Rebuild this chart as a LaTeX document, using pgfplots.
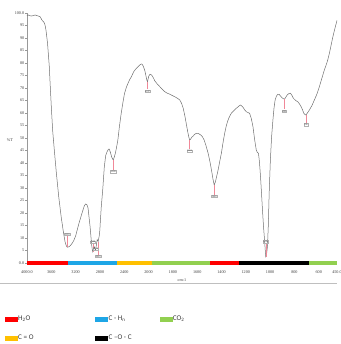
\documentclass[border=0pt]{standalone}
\usepackage{pgfplots}
\pgfplotsset{compat=1.18}
\usepackage{fontspec}
\setmainfont{Liberation Serif}
\newfontfamily\legendfont{Carlito}

\definecolor{trace}{HTML}{6E6E6E}
\definecolor{peakline}{HTML}{F08898}
\definecolor{txt}{HTML}{3C3C3C}
\definecolor{bandred}{HTML}{FF0000}
\definecolor{bandblue}{HTML}{1EA6E6}
\definecolor{bandyellow}{HTML}{FFC000}
\definecolor{bandgreen}{HTML}{92D050}
\definecolor{bandblack}{HTML}{000000}

% FTIR transmittance spectrum: wavenumber (cm^-1) and %T
\pgfplotstableread{
wn T
4000 99.0
3983 99.2
3950 98.9
3922 98.8
3895 99.0
3867 99.2
3840 99.0
3817 98.8
3783 98.5
3755 97.2
3728 96.5
3712 95.9
3700 94.8
3688 93.2
3662 87.9
3633 78.5
3617 70.5
3600 62.5
3578 53.0
3550 45.0
3517 36.0
3478 26.5
3438 18.5
3405 13.0
3375 8.6
3355 7.0
3339 6.3
3310 6.5
3285 7.0
3260 7.8
3230 9.0
3200 10.8
3145 15.9
3088 20.5
3055 23.0
3033 23.6
3012 23.2
2995 21.9
2978 18.0
2962 14.5
2948 10.5
2935 7.0
2925 5.2
2918 4.5
2908 5.4
2897 6.6
2886 6.0
2874 5.2
2864 6.2
2855 7.9
2845 9.3
2837 9.2
2829 8.6
2820 9.8
2812 10.8
2802 13.0
2795 16.0
2778 22.5
2755 29.0
2728 38.5
2705 43.0
2683 44.5
2660 45.5
2645 45.5
2625 44.0
2605 42.3
2590 41.5
2580 41.3
2565 42.3
2545 44.0
2525 46.5
2505 49.2
2480 54.5
2450 59.9
2420 64.5
2395 67.9
2365 70.3
2338 71.9
2310 73.4
2283 74.5
2245 76.5
2200 77.9
2170 78.6
2145 79.2
2120 79.6
2105 79.5
2085 78.6
2060 76.8
2040 74.5
2028 73.1
2017 72.5
2008 73.6
1998 74.8
1988 75.5
1975 75.2
1962 74.2
1948 72.8
1930 71.7
1907 70.5
1886 69.4
1866 68.5
1845 67.9
1825 67.5
1805 67.0
1784 66.5
1763 65.9
1743 65.2
1728 63.8
1715 61.9
1700 58.5
1688 55.2
1676 52.0
1668 50.2
1662 49.2
1655 49.5
1645 50.3
1633 50.8
1620 51.5
1606 51.9
1590 51.8
1571 51.2
1557 50.5
1543 49.2
1528 47.0
1510 43.9
1495 40.5
1480 36.5
1470 33.5
1460 31.2
1450 32.5
1440 34.6
1428 37.2
1415 40.5
1401 43.9
1388 48.0
1374 51.9
1360 55.0
1346 57.2
1333 58.7
1319 59.9
1298 61.0
1278 61.9
1260 62.6
1246 63.2
1235 62.9
1223 62.3
1210 61.3
1196 60.5
1183 60.2
1169 59.9
1155 57.8
1141 54.5
1128 49.5
1114 45.2
1105 44.2
1096 43.9
1088 40.5
1079 34.5
1071 28.0
1063 21.2
1055 15.0
1046 9.2
1040 5.0
1036 2.5
1030 3.3
1022 6.5
1015 15.0
1008 27.9
998 41.2
988 50.5
977 57.2
968 62.0
959 65.2
948 66.8
936 67.5
925 67.4
915 66.8
900 66.0
882 65.5
870 66.4
860 67.2
845 67.8
833 67.9
820 67.0
809 65.9
790 65.0
772 64.5
758 63.6
745 62.5
733 61.2
723 59.9
714 59.4
706 59.2
695 59.9
677 61.2
656 63.0
636 65.2
615 67.6
595 70.5
575 73.8
554 77.2
540 79.1
526 81.2
512 84.0
499 87.0
487 89.8
475 92.3
462 94.8
450 97.0
}\spectrum

% short marker from a band minimum towards its label
\newcommand\peakmark[3]{%
  \addplot[peakline, line width=0.5bp, forget plot] coordinates {(#1,#2) (#1,#3)};}
% coloured band along the baseline
\newcommand\band[3]{%
  \addplot[#1, line width=3.6bp, forget plot] coordinates {(#2,0) (#3,0)};}

\begin{document}
\begin{tikzpicture}
\path[use as bounding box] (-27bp,-81bp) rectangle (314bp,263bp);
\begin{axis}[
  at={(0,0)}, anchor=south west,
  scale only axis, width=310bp, height=250bp,
  clip=false,
  % 4000-2000 cm^-1 on one scale, below 2000 cm^-1 expanded twofold
  x filter/.expression={x>=2000 ? 4000-x : 6000-2*x},
  xmin=0, xmax=5100, ymin=0, ymax=100,
  xtick={0,400,800,1200,1600,2000,2400,2800,3200,3600,4000,4400,4800,5100},
  xticklabels={4000.0,3600,3200,2800,2400,2000,1800,1600,1400,1200,1000,800,600,450.0},
  ytick={0,5,...,100},
  yticklabels={0.0,5,10,15,20,25,30,35,40,45,50,55,60,65,70,75,80,85,90,95,100.0},
  axis x line*=bottom, axis y line*=left,
  x axis line style={draw=none},
  y axis line style={-, draw=gray!80, line width=0.4bp},
  xtick style={draw=none},
  ytick style={draw=gray!80, line width=0.4bp},
  tick align=outside, major tick length=2bp,
  tick label style={font=\fontsize{4.2}{5}\selectfont, text=txt},
  yticklabel style={inner sep=0.6bp},
  xticklabel style={inner sep=0pt, yshift=-6bp},
  xlabel={cm-1},
  xlabel style={font=\fontsize{4.2}{5}\selectfont, text=txt, inner sep=0pt,
    at={(axis description cs:0.5,0)}, anchor=center, yshift=-17bp},
  ylabel={\%T},
  ylabel style={font=\fontsize{4.2}{5}\selectfont, text=txt, inner sep=0pt, rotate=-90,
    at={(axis description cs:-0.055,0.49)}, anchor=center},
  legend columns=3,
  legend cell align=left,
  legend style={at={(axis description cs:-0.082,-0.2)}, anchor=north west,
    draw=none, fill=none, font=\legendfont\fontsize{7.2}{8}\selectfont, text=txt,
    nodes={inner sep=1bp}, row sep=10.5bp, column sep=0pt},
]
\band{bandred}{4000}{3333}
\band{bandblue}{3333}{2517}
\band{bandyellow}{2517}{1975}
\band{bandgreen}{1975}{1492}
\band{bandred}{1492}{1254}
\band{bandblack}{1254}{680}
\band{bandgreen}{680}{450}

\addplot[trace, line width=0.5bp, forget plot] table[x=wn, y=T] {\spectrum};

\peakmark{3339}{6.3}{10.8}
\peakmark{2918}{4.5}{7.6}
\peakmark{2829}{8.6}{3.4}
\peakmark{2580}{41.3}{37.3}
\peakmark{2017}{72.5}{69.4}
\peakmark{1662}{49.2}{45.5}
\peakmark{1460}{31.2}{27.4}
\peakmark{1036}{2.5}{7.9}
\peakmark{882}{65.5}{61.4}
\peakmark{706}{59.2}{56.1}

\addplot[draw=none, forget plot, point meta=explicit symbolic, nodes near coords,
  every node near coord/.append style={anchor=center, draw=gray!60, line width=0.3bp,
    inner sep=0.35bp, font=\fontsize{2.4}{3}\selectfont, text=txt}]
  coordinates {
    (3339,11.5)[3339] (2918,8.4)[2918] (2874,5.6)[2874] (2829,2.7)[2829]
    (2580,36.6)[2580] (2017,68.7)[2017] (1662,44.8)[1662] (1460,26.7)[1460]
    (1036,8.6)[1036] (882,60.7)[882] (706,55.4)[706]
  };

\addlegendimage{legend image code/.code={\fill[bandred] (0bp,-2.2bp) rectangle (12bp,2.2bp);}}
\addlegendentry{\makebox[76bp][l]{H\textsubscript{2}O}}
\addlegendimage{legend image code/.code={\fill[bandblue] (0bp,-2.2bp) rectangle (12bp,2.2bp);}}
\addlegendentry{\makebox[50bp][l]{C - H\textsubscript{n}}}
\addlegendimage{legend image code/.code={\fill[bandgreen] (0bp,-2.2bp) rectangle (12bp,2.2bp);}}
\addlegendentry{CO\textsubscript{2}}
\addlegendimage{legend image code/.code={\fill[bandyellow] (0bp,-2.2bp) rectangle (12bp,2.2bp);}}
\addlegendentry{\makebox[76bp][l]{C = O}}
\addlegendimage{legend image code/.code={\fill[bandblack] (0bp,-2.2bp) rectangle (12bp,2.2bp);}}
\addlegendentry{\makebox[50bp][l]{C \textendash O - C}}
\end{axis}
\draw[gray!50, line width=0.4bp] (-27bp,-20.5bp) -- (310bp,-20.5bp);
\end{tikzpicture}
\end{document}
